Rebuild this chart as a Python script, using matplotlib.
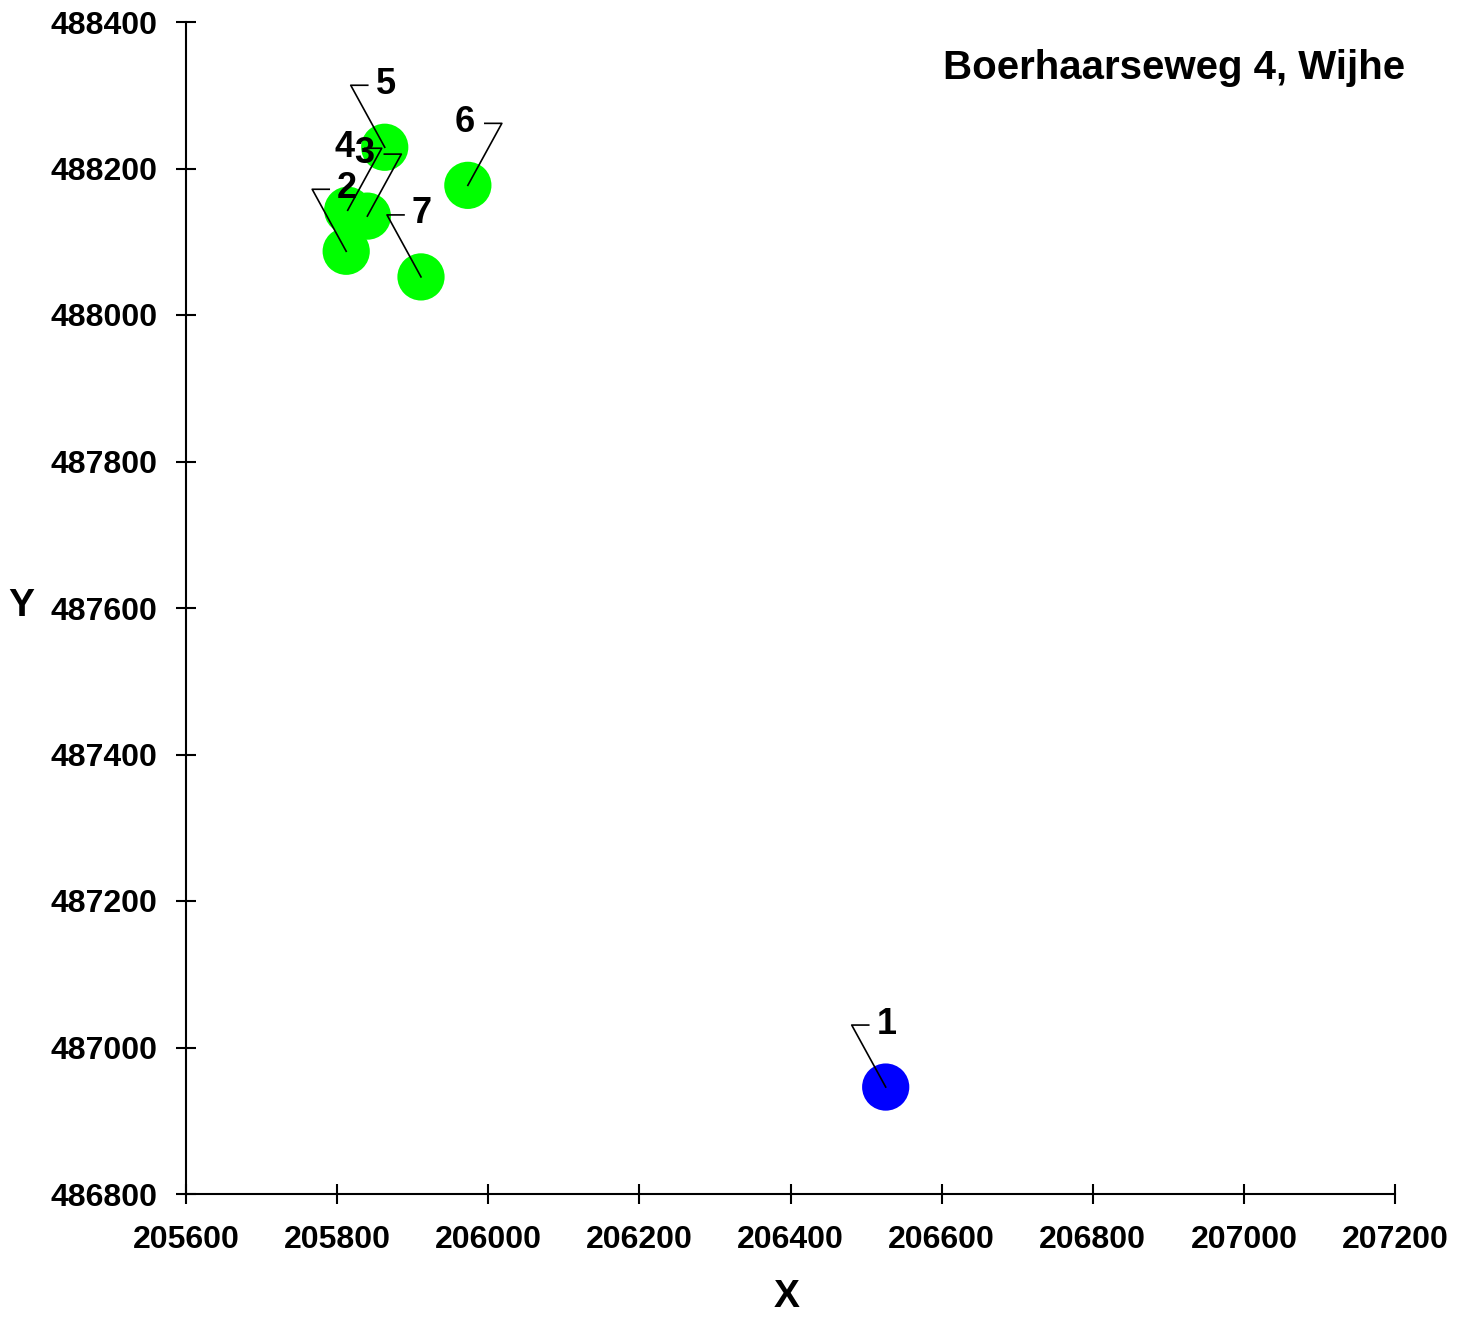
import numpy as np
import matplotlib
matplotlib.use("Agg")
import matplotlib.pyplot as plt
from matplotlib.transforms import ScaledTranslation

# Meetpunten (RD-coordinaten)
labels = ["1", "2", "3", "4", "5", "6", "7"]
x_rd = [206526, 205812, 205840, 205814, 205863, 205973, 205911]
y_rd = [486946, 488087, 488135, 488143, 488229, 488177, 488052]
colors = ["#0000ff", "#00ff00", "#00ff00", "#00ff00", "#00ff00", "#00ff00", "#00ff00"]
# richting van het label: -1 = links, +1 = rechts
label_side = [-1, -1, 1, 1, -1, 1, -1]

x_ticks = np.arange(205600, 207201, 200)
y_ticks = np.arange(486800, 488401, 200)
title = "Boerhaarseweg 4, Wijhe"

bold = ["Liberation Sans", "DejaVu Sans"]

W, H = 1469, 1319
fig = plt.figure(figsize=(W / 100, H / 100), dpi=100)
ax = fig.add_axes([186 / W, 1 - 1194 / H, (1395 - 186) / W, (1194 - 22) / H])

ax.scatter(x_rd, y_rd, s=34 ** 2, c=colors, edgecolors="none", zorder=2)

# leader lines: punt -> hoek -> kort horizontaal stukje, label erboven
for xi, yi, lab, d in zip(x_rd, y_rd, labels, label_side):
    trans = fig.dpi_scale_trans + ScaledTranslation(xi, yi, ax.transData)
    ax.plot([0, d * 0.34, d * 0.17], [0, 0.62, 0.62], color="black",
            lw=1.2, transform=trans, zorder=3, clip_on=False)
    tdx = -3 if d > 0 else 1
    ax.annotate(lab, (xi, yi), xytext=(tdx, 63), textcoords="offset pixels",
                ha="center", va="center", fontsize=26, fontweight="bold",
                family=bold, zorder=4, annotation_clip=False)

ax.set_xlim(205600, 207200)
ax.set_ylim(486800, 488400)
ax.set_xticks(x_ticks)
ax.set_yticks(y_ticks)
ax.set_xticklabels([str(v) for v in x_ticks], fontsize=23, fontweight="bold", family=bold)
ax.set_yticklabels([str(v) for v in y_ticks], fontsize=23, fontweight="bold", family=bold)

ax.spines["top"].set_visible(False)
ax.spines["right"].set_visible(False)
for sp in ("left", "bottom"):
    ax.spines[sp].set_linewidth(1.5)
ax.tick_params(direction="inout", length=14.4, width=1.5, color="black")
ax.tick_params(axis="y", pad=13.5)
ax.tick_params(axis="x", pad=15)

fig.text(786.7 / W, 1 - 1297 / H, "X", ha="center", va="center",
         fontsize=28, fontweight="bold", family=bold)
fig.text(21 / W, 1 - 606 / H, "Y", ha="center", va="center",
         fontsize=28, fontweight="bold", family=bold)
fig.text(1405 / W, 1 - 68 / H, title, ha="right", va="center",
         fontsize=29, fontweight="bold", family=bold)

fig.savefig("out.png", dpi=100)
